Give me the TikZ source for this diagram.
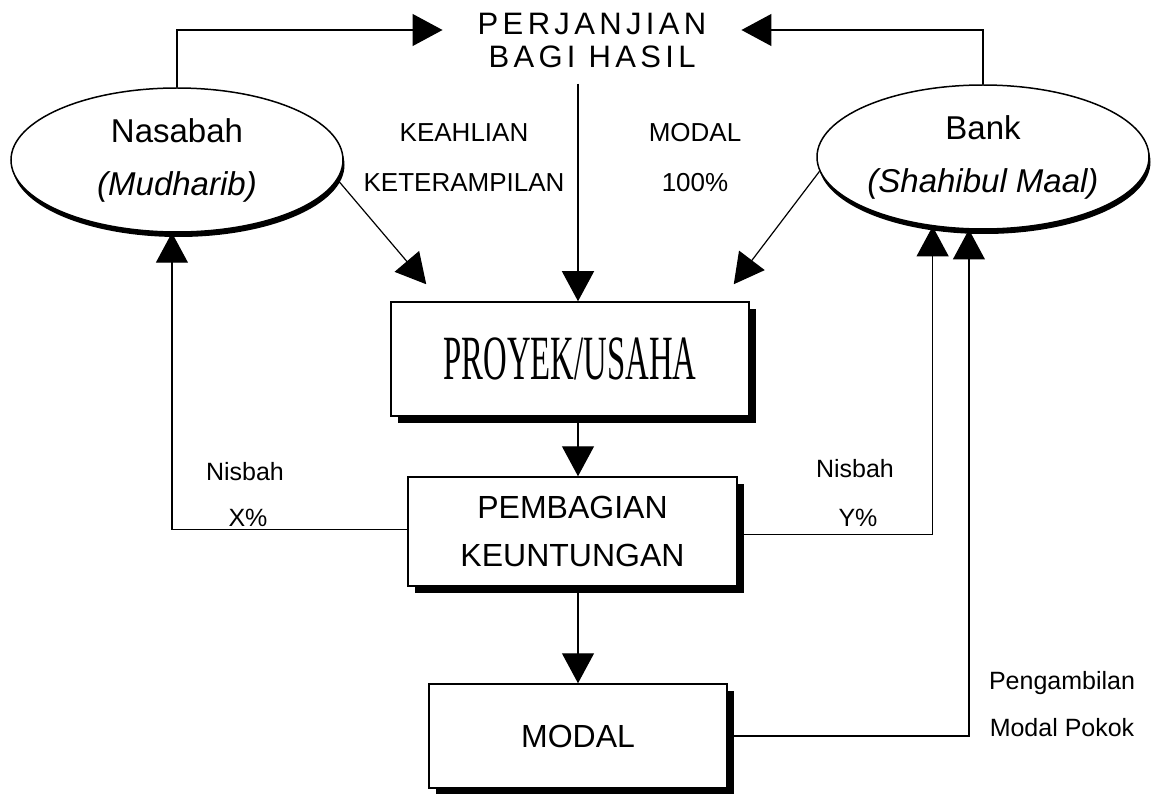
\documentclass[tikz,border=0pt]{standalone}
\usepackage{fontspec}
\setmainfont{Liberation Sans}
\newfontfamily\titlefont[LetterSpace=14]{Liberation Sans}
\newfontfamily\boxserif{Liberation Serif}
\usetikzlibrary{arrows.meta, shadows, shapes.geometric}

\tikzset{
  fs/.style={font=\fontsize{#1}{#1}\selectfont},
  box/.style={draw, line width=1.5pt, fill=white, minimum width=#1, align=center,
    drop shadow={opacity=1, fill=black, shadow xshift=7pt, shadow yshift=-7pt}},
  party/.style={ellipse, draw, line width=1.5pt, fill=white, minimum width=332pt,
    minimum height=144pt, align=center, inner sep=0pt,
    drop shadow={opacity=1, fill=black, shadow xshift=1.5pt, shadow yshift=-5pt}},
  flow/.style={line width=1.2pt, -{Triangle[length=30pt, width=32pt]}},
}

\begin{document}
\begin{tikzpicture}[x=1pt, y=-1pt]
    \useasboundingbox (0,0) rectangle (1154,794);
    % parties
    \node[party, fs=33] (nas) at (177,160) {Nasabah\\[20pt]\textit{(Mudharib)}};
    \node[party, fs=33] (bank) at (983,157) {Bank\\[20pt]\textit{(Shahibul Maal)}};
    \node[fs=31, align=center, inner xsep=35pt, inner ysep=2pt] (akad) at (592,40)
        {\titlefont PERJANJIAN\\[2pt]\titlefont BAGI HASIL};
    % what each side brings
    \node[fs=26, align=center] (skill) at (464,158) {KEAHLIAN\\[24pt]KETERAMPILAN};
    \node[fs=26, align=center] (cap) at (695,158) {MODAL\\[24pt]100\%};
    % project chain
    \node[box=358pt, minimum height=114pt] (proy) at (570,359)
        {\scalebox{0.52}[1]{\boxserif\fontsize{63}{63}\selectfont PROYEK/USAHA}};
    \node[box=329pt, minimum height=109pt, fs=32] (bagi) at (572.5,531.5)
        {PEMBAGIAN\\[16pt]KEUNTUNGAN};
    \node[box=298pt, minimum height=104pt, fs=32] (modal) at (578,736) {MODAL};
    % labels on the return lines
    \node[fs=25] (nisx) at (245,472) {Nisbah};
    \node[fs=25] (px) at (248,518) {X\%};
    \node[fs=25] (nisy) at (855,469) {Nisbah};
    \node[fs=25] (py) at (858,518) {Y\%};
    \node[fs=25, align=center] (ambil) at (1062,704) {Pengambilan\\[22pt]Modal Pokok};

    \draw[flow] (nas.north) |- ([yshift=10pt]akad.west);
    \draw[flow] (bank.north) |- ([yshift=10pt]akad.east);
    \draw[flow] ([yshift=-14pt]akad.south -| modal.north) -- (proy.north -| modal.north);
    \draw[flow] (nas.-7) -- ([xshift=36pt, yshift=17pt]proy.north west);
    \draw[flow] (bank.185) -- ([xshift=-16pt, yshift=17pt]proy.north east);
    \draw[flow] (proy.south -| modal.north) -- (bagi.north -| modal.north);
    \draw[flow] (bagi.south -| modal.north) -- (modal.north);
    \draw[flow] ([yshift=2pt]bagi.west) -| (nas.-94);
    \draw[flow] ([yshift=-3pt]bagi.east) -| (bank.-126);
    \draw[flow] (modal.east) -| (bank.-101);
\end{tikzpicture}
\end{document}
